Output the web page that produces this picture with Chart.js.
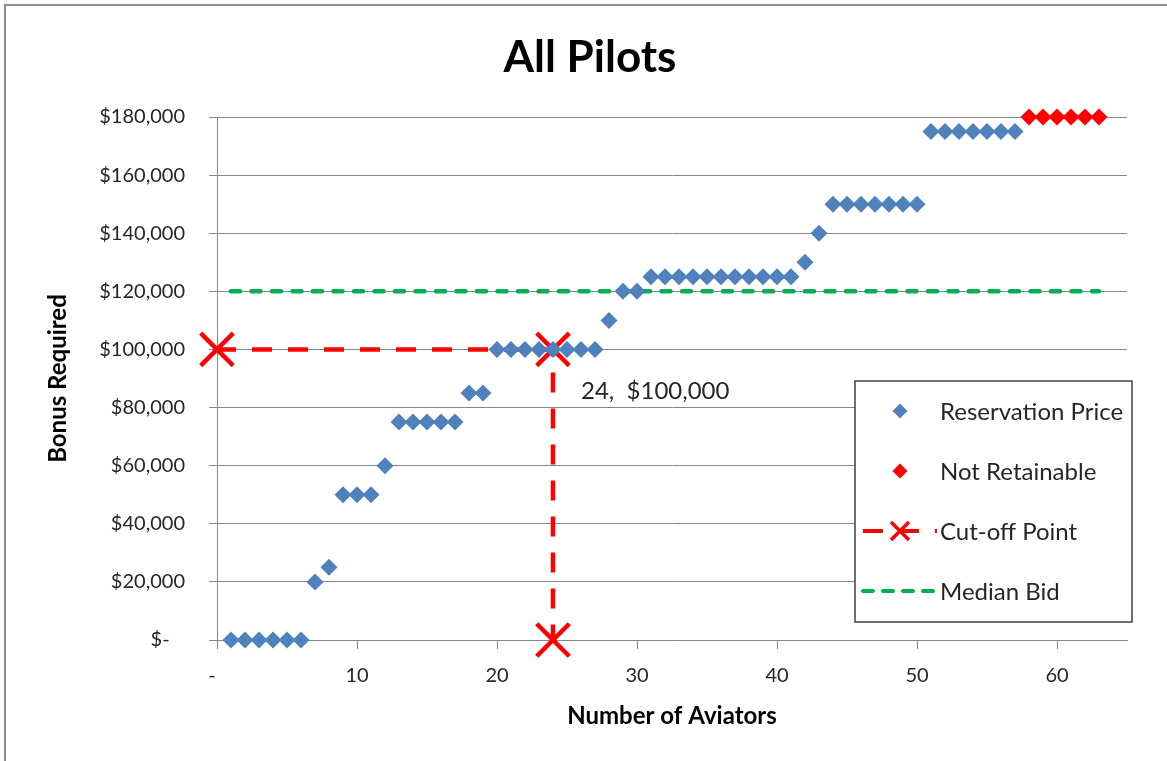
<!DOCTYPE html>
<html>
<head>
<meta charset="utf-8">
<title>All Pilots</title>
<script src="https://cdn.jsdelivr.net/npm/chart.js@4.4.1/dist/chart.umd.min.js"></script>
<style>
  html, body { margin: 0; padding: 0; background: #ffffff; }
  #wrap { position: relative; width: 1167px; height: 761px; overflow: hidden; }
  canvas { display: block; }
</style>
</head>
<body>
<div id="wrap"><canvas id="chart" width="1167" height="761"></canvas></div>
<script>
// ---- data ----
const aviators = [
  1, 2, 3, 4, 5, 6, 7, 8, 9, 10, 11, 12, 13, 14, 15, 16, 17, 18, 19, 20,
  21, 22, 23, 24, 25, 26, 27, 28, 29, 30, 31, 32, 33, 34, 35, 36, 37, 38, 39, 40,
  41, 42, 43, 44, 45, 46, 47, 48, 49, 50, 51, 52, 53, 54, 55, 56, 57
];
const reservationPrice = [
  0, 0, 0, 0, 0, 0, 20000, 25000, 50000, 50000,
  50000, 60000, 75000, 75000, 75000, 75000, 75000, 85000, 85000, 100000,
  100000, 100000, 100000, 100000, 100000, 100000, 100000, 110000, 120000, 120000,
  125000, 125000, 125000, 125000, 125000, 125000, 125000, 125000, 125000, 125000,
  125000, 130000, 140000, 150000, 150000, 150000, 150000, 150000, 150000, 150000,
  175000, 175000, 175000, 175000, 175000, 175000, 175000
];
const notRetainableAviators = [58, 59, 60, 61, 62, 63];
const notRetainablePrice = [180000, 180000, 180000, 180000, 180000, 180000];
const cutoffAviators = [0, 24, 24];
const cutoffPrice = [100000, 100000, 0];
const medianAviators = [1, 63];
const medianBid = [120000, 120000];
const xTickValues = [0, 10, 20, 30, 40, 50, 60];
const yTickValues = [0, 20000, 40000, 60000, 80000, 100000, 120000, 140000, 160000, 180000];

// ---- styling ----
const FONT = 'Lato, "Liberation Sans", sans-serif';
const TEXT = '#262626';
const GRID = '#868686';
const BLUE = '#4F81BD';
const RED = '#FF0000';
const GREEN = '#00B050';

const toPoints = (xs, ys) => xs.map((x, i) => ({ x: x, y: ys[i] }));
const money = v => v === 0 ? '$-' : '$' + v.toLocaleString('en-US');

// outer frame of the chart object
const framePlugin = {
  id: 'frame',
  beforeDraw(chart) {
    const ctx = chart.ctx;
    ctx.save();
    ctx.fillStyle = '#ffffff';
    ctx.fillRect(0, 0, chart.width, chart.height);
    ctx.strokeStyle = '#8c8c8c';
    ctx.lineWidth = 2;
    ctx.strokeRect(5, 5, chart.width + 40, chart.height + 40);
    ctx.restore();
  }
};

// chart heading
const headingPlugin = {
  id: 'heading',
  afterDraw(chart) {
    const ctx = chart.ctx;
    ctx.save();
    ctx.font = 'bold 44px ' + FONT;
    ctx.fillStyle = '#000000';
    ctx.textAlign = 'center';
    ctx.textBaseline = 'middle';
    ctx.fillText('All Pilots', 590, 58);
    ctx.restore();
  }
};

// value label next to the cut-off corner point
const cutoffLabelPlugin = {
  id: 'cutoffLabel',
  afterDatasetsDraw(chart) {
    const meta = chart.getDatasetMeta(2);
    const pt = meta.data[1];
    if (!pt) return;
    const ctx = chart.ctx;
    ctx.save();
    ctx.font = '24px ' + FONT;
    ctx.fillStyle = TEXT;
    ctx.textAlign = 'left';
    ctx.textBaseline = 'middle';
    ctx.fillText(cutoffAviators[1] + ',  ' + money(cutoffPrice[1]), pt.x + 28, pt.y + 42);
    ctx.restore();
  }
};

function diamond(ctx, x, y, r, color) {
  ctx.beginPath();
  ctx.moveTo(x - r, y);
  ctx.lineTo(x, y - r);
  ctx.lineTo(x + r, y);
  ctx.lineTo(x, y + r);
  ctx.closePath();
  ctx.fillStyle = color;
  ctx.fill();
}

// boxed legend inside the plot area
const boxLegendPlugin = {
  id: 'boxLegend',
  afterDraw(chart) {
    const ctx = chart.ctx;
    const area = chart.chartArea;
    const box = { left: area.right - 272, top: area.top + 264, width: 277, height: 241 };
    ctx.save();
    ctx.fillStyle = '#ffffff';
    ctx.fillRect(box.left, box.top, box.width, box.height);
    ctx.strokeStyle = '#404040';
    ctx.lineWidth = 1.5;
    ctx.strokeRect(box.left, box.top, box.width, box.height);

    const symX = box.left + 45;
    const textX = box.left + 85;
    chart.data.datasets.forEach((ds, i) => {
      const y = box.top + 30 + i * 60;
      if (ds.showLine) {
        ctx.save();
        ctx.strokeStyle = ds.borderColor;
        ctx.lineWidth = ds.legendLineWidth;
        ctx.lineCap = ds.borderCapStyle || 'butt';
        ctx.setLineDash(ds.legendDash);
        ctx.beginPath();
        ctx.moveTo(symX - 37, y);
        ctx.lineTo(symX + 37, y);
        ctx.stroke();
        ctx.restore();
        if (ds.pointStyle === 'crossRot') {
          const h = 9;
          ctx.save();
          ctx.strokeStyle = ds.pointBorderColor;
          ctx.lineWidth = 3.5;
          ctx.beginPath();
          ctx.moveTo(symX - h, y - h); ctx.lineTo(symX + h, y + h);
          ctx.moveTo(symX + h, y - h); ctx.lineTo(symX - h, y + h);
          ctx.stroke();
          ctx.restore();
        }
      } else {
        diamond(ctx, symX, y, 7.5, ds.backgroundColor);
      }
      ctx.font = '24px ' + FONT;
      ctx.fillStyle = TEXT;
      ctx.textAlign = 'left';
      ctx.textBaseline = 'middle';
      ctx.fillText(ds.label, textX, y + 1);
    });
    ctx.restore();
  }
};

new Chart(document.getElementById('chart'), {
  type: 'scatter',
  data: {
    datasets: [
      {
        label: 'Reservation Price',
        data: toPoints(aviators, reservationPrice),
        showLine: false,
        clip: false,
        pointStyle: 'rectRot',
        pointRadius: 8.5,
        pointBorderWidth: 0,
        backgroundColor: BLUE,
        borderColor: BLUE
      },
      {
        label: 'Not Retainable',
        data: toPoints(notRetainableAviators, notRetainablePrice),
        showLine: false,
        clip: false,
        pointStyle: 'rectRot',
        pointRadius: 8.5,
        pointBorderWidth: 0,
        backgroundColor: RED,
        borderColor: RED
      },
      {
        label: 'Cut-off Point',
        data: toPoints(cutoffAviators, cutoffPrice),
        showLine: true,
        clip: false,
        fill: false,
        borderColor: RED,
        borderWidth: 4.5,
        borderDash: [20, 16],
        borderDashOffset: 1,
        legendDash: [20, 16],
        legendLineWidth: 4,
        pointStyle: 'crossRot',
        pointRadius: 23,
        pointBorderWidth: 4.5,
        pointBorderColor: RED,
        backgroundColor: RED
      },
      {
        label: 'Median Bid',
        data: toPoints(medianAviators, medianBid),
        showLine: true,
        clip: false,
        fill: false,
        borderColor: GREEN,
        borderWidth: 4.5,
        borderCapStyle: 'round',
        borderDash: [9, 11.5],
        legendDash: [10, 10],
        legendLineWidth: 4,
        pointRadius: 0,
        backgroundColor: GREEN
      }
    ]
  },
  options: {
    responsive: false,
    animation: false,
    events: [],
    layout: { padding: { top: 117, right: 40, bottom: 0, left: 0 } },
    plugins: {
      legend: { display: false },
      tooltip: { enabled: false },
      title: { display: false }
    },
    scales: {
      x: {
        type: 'linear',
        min: 0,
        max: 65,
        afterFit(scale) { scale.height = 121; },
        afterBuildTicks(scale) { scale.ticks = xTickValues.map(v => ({ value: v })); },
        grid: { drawOnChartArea: false, drawTicks: true, tickLength: 9, color: GRID, tickColor: GRID },
        border: { display: true, color: GRID, width: 1 },
        ticks: {
          padding: 15,
          color: TEXT,
          font: { family: FONT, size: 20 },
          callback: v => v === 0 ? '-  ' : String(v)
        },
        title: {
          display: true,
          text: 'Number of Aviators',
          color: '#000000',
          font: { family: FONT, size: 24, weight: 'bold' },
          padding: { top: 0, bottom: 30 }
        }
      },
      y: {
        type: 'linear',
        min: 0,
        max: 180000,
        afterFit(scale) { scale.width = 217; },
        afterBuildTicks(scale) { scale.ticks = yTickValues.map(v => ({ value: v })); },
        grid: { drawOnChartArea: true, drawTicks: true, tickLength: 8, color: GRID, tickColor: GRID, lineWidth: 1 },
        border: { display: true, color: GRID, width: 1 },
        ticks: {
          padding: 24,
          color: TEXT,
          font: { family: FONT, size: 20 },
          callback: v => v === 0 ? '$-   ' : money(v)
        },
        title: {
          display: true,
          text: 'Bonus Required',
          color: '#000000',
          font: { family: FONT, size: 24, weight: 'bold' },
          padding: { top: 44, bottom: 0 }
        }
      }
    }
  },
  plugins: [framePlugin, cutoffLabelPlugin, boxLegendPlugin, headingPlugin]
});
</script>
</body>
</html>
